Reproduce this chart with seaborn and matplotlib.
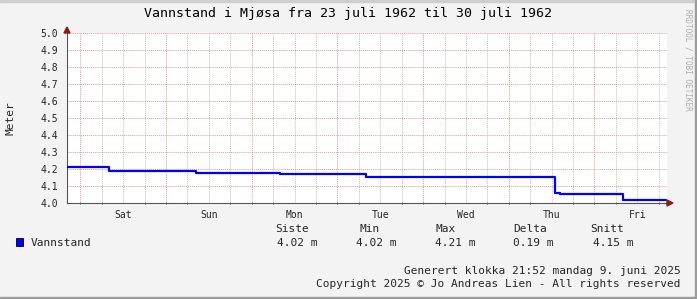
import matplotlib
matplotlib.use("Agg")
import matplotlib.pyplot as plt
import seaborn as sns
import pandas as pd
from matplotlib.patches import Rectangle, Polygon

# ---- data (hours since start of window, water level in metres) ----
hours = [0.0, 11.84, 36.04, 59.64, 83.6, 136.6, 138.0, 155.8, 156.6, 167.6]
levels = [4.21, 4.186, 4.178, 4.168, 4.15, 4.058, 4.055, 4.018, 4.015, 4.015]
day_labels = ["Sat", "Sun", "Mon", "Tue", "Wed", "Thu", "Fri"]
first_midnight = 3.7
y_ticks = [4.0, 4.1, 4.2, 4.3, 4.4, 4.5, 4.6, 4.7, 4.8, 4.9, 5.0]
stat_names = ["Siste", "Min", "Max", "Delta", "Snitt"]
stat_values = ["4.02 m", "4.02 m", "4.21 m", "0.19 m", "4.15 m"]
series_name = "Vannstand"
title = "Vannstand i Mjøsa fra 23 juli 1962 til 30 juli 1962"

W, H = 697, 299
sns.set_theme(style="white")
plt.rcParams["font.family"] = ["DejaVu Sans Mono"]

fig = plt.figure(figsize=(W / 100, H / 100), dpi=100)
fig.patch.set_facecolor("#f3f3f3")

def px(x, y):
    return x / W, 1 - y / H

# frame
fig.add_artist(Rectangle(px(0, 2), 2 / W, 1, transform=fig.transFigure, color="#cfcfcf", zorder=0))
fig.add_artist(Rectangle(px(0, 2), 1, 2 / H, transform=fig.transFigure, color="#cfcfcf", zorder=0))
fig.add_artist(Rectangle(px(W - 2, H), 2 / W, 1, transform=fig.transFigure, color="#9c9c9c", zorder=0))
fig.add_artist(Rectangle(px(0, H), 1, 2 / H, transform=fig.transFigure, color="#9c9c9c", zorder=0))

L, R, T, B = 67, 667, 33, 203
ax = fig.add_axes([L / W, 1 - B / H, (R - L) / W, (B - T) / H])
ax.set_facecolor("white")

df = pd.DataFrame({"hours": hours, "level": levels})
sns.lineplot(data=df, x="hours", y="level", ax=ax, color="#0000ff", lw=1.6,
             drawstyle="steps-post", zorder=5)

ax.set_xlim(0, 168)
ax.set_ylim(4.0, 5.0)

# grid
dot = (0, (1, 1))
h = first_midnight
mids = []
while h < 168:
    mids.append(h)
    h += 24
minors = []
h = first_midnight % 6
while h < 168:
    if all(abs(h - m) > 0.01 for m in mids):
        minors.append(h)
    h += 6
for m in minors:
    ax.axvline(m, color="#c4c4c4", lw=0.7, ls=dot, zorder=1)
for m in mids:
    ax.axvline(m, color="#e69a9a", lw=0.7, ls=dot, zorder=2)
for yv in y_ticks[1:]:
    ax.axhline(yv, color="#e69a9a", lw=0.7, ls=dot, zorder=2)

for s in ax.spines.values():
    s.set_visible(False)
ax.spines["left"].set_visible(True)
ax.spines["bottom"].set_visible(True)
ax.spines["left"].set_color("#555555")
ax.spines["bottom"].set_color("#555555")
ax.spines["left"].set_linewidth(0.8)
ax.spines["bottom"].set_linewidth(0.8)

ax.set_yticks(y_ticks)
ax.set_yticklabels([f"{v:.1f}" for v in y_ticks], fontsize=7)
ax.set_xticks([first_midnight + 12 + 24 * i for i in range(len(day_labels))])
ax.set_xticklabels(day_labels, fontsize=7)
ax.set_xticks(minors + mids, minor=True)
ax.tick_params(axis="y", which="major", length=2.5, width=0.7, color="#555555", pad=4, direction="out")
ax.tick_params(axis="x", which="major", length=0, pad=5)
ax.tick_params(axis="x", which="minor", length=2, width=0.7, color="#555555", direction="inout", bottom=True)
ax.set_xlabel("")
ax.set_ylabel("")

# arrows
fig.add_artist(Polygon([px(64, 33), px(70, 33), px(67, 27)], closed=True,
                       transform=fig.transFigure, color="#8b1a1a", zorder=10))
fig.add_artist(Polygon([px(667, 200), px(667, 206), px(673, 203)], closed=True,
                       transform=fig.transFigure, color="#8b1a1a", zorder=10))

# texts
fig.text(*px(348.5, 13), title, ha="center", va="center", fontsize=9.5, color="black")
fig.text(*px(10, 118), "Meter", ha="center", va="center", rotation=90, fontsize=8)
fig.text(*px(688, 60), "RRDTOOL / TOBI OETIKER", ha="center", va="center", rotation=270,
         fontsize=5.6, color="#b0b0b0")

# legend
fig.add_artist(Rectangle(px(16, 246), 7 / W, 8 / H, transform=fig.transFigure,
                         facecolor="#0000ff", edgecolor="black", lw=0.6))
fig.text(*px(31, 243), series_name, ha="left", va="center", fontsize=8)
name_x = [292.5, 370, 446, 530, 607]
val_x = [297.5, 376.5, 455, 533.5, 613]
for n, v, nx, vx in zip(stat_names, stat_values, name_x, val_x):
    fig.text(*px(nx, 229), n, ha="center", va="center", fontsize=8)
    fig.text(*px(vx, 243), v, ha="center", va="center", fontsize=8)

fig.text(*px(681, 271), "Generert klokka 21:52 mandag 9. juni 2025", ha="right", va="center", fontsize=8)
fig.text(*px(681, 284), "Copyright 2025 © Jo Andreas Lien - All rights reserved", ha="right", va="center", fontsize=8)

fig.savefig("out.png", dpi=100, facecolor=fig.get_facecolor())
